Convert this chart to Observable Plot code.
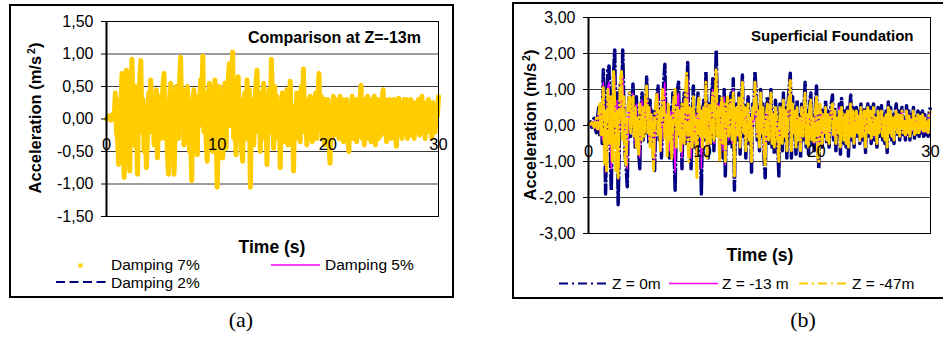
<!DOCTYPE html>
<html><head><meta charset="utf-8">
<script src="https://cdn.jsdelivr.net/npm/d3@7"></script>
<script src="https://cdn.jsdelivr.net/npm/@observablehq/plot@0.6"></script>
<style>
body{margin:0;background:#fff;font-family:"Liberation Sans",Arial,sans-serif;color:#000;}
#root{position:relative;width:943px;height:337px;overflow:hidden;background:#fff;}
.abs{position:absolute;white-space:nowrap;}
.frame{position:absolute;border:2px solid #000;box-sizing:border-box;}
.title{font-weight:bold;font-size:16px;line-height:18px;height:18px;}
.ytitle{font-weight:bold;font-size:16.5px;line-height:20px;height:20px;width:220px;text-align:center;transform:rotate(-90deg);}
.ytitle sup{font-size:10.5px;margin-left:2px;line-height:0;}
.xtitle{font-weight:bold;font-size:17.5px;line-height:20px;height:20px;width:120px;text-align:center;}
.leg{font-size:15.5px;line-height:14px;height:14px;}
.cap{font-family:"Liberation Serif","Times New Roman",serif;font-size:22px;line-height:26px;height:26px;width:60px;text-align:center;}
.plotbox{position:absolute;}
</style></head>
<body><div id="root">
<div class="frame" style="left:9px;top:4px;width:445px;height:294px;"></div>
<div class="frame" style="left:512px;top:2px;width:445px;height:297px;"></div>
<div id="pa" class="plotbox" style="left:40px;top:10px;"></div>
<div id="pb" class="plotbox" style="left:530px;top:5px;"></div>

<div class="abs title" style="left:248px;top:29px;">Comparison at Z=-13m</div>
<div class="abs title" style="left:751px;top:27px;font-size:15px;">Superficial Foundation</div>

<div class="abs ytitle" style="left:-75px;top:108px;">Acceleration (m/s<sup>2</sup>)</div>
<div class="abs ytitle" style="left:420px;top:115px;">Acceleration (m/s<sup>2</sup>)</div>

<div class="abs xtitle" style="left:212px;top:237px;">Time (s)</div>
<div class="abs xtitle" style="left:700px;top:245px;">Time (s)</div>

<svg class="abs" style="left:0;top:0;" width="943" height="337" id="legsym">
  <rect x="78.5" y="263.5" width="4" height="4" fill="#FFCC00"/>
  <line x1="271" y1="265" x2="320" y2="265" stroke="#FF00FF" stroke-width="1.5"/>
  <line x1="56" y1="282" x2="106" y2="282" stroke="#000080" stroke-width="2" stroke-dasharray="9,4.5"/>
  <line x1="559" y1="283.5" x2="608" y2="283.5" stroke="#000080" stroke-width="2" stroke-dasharray="9,4,2,4"/>
  <line x1="669" y1="283.5" x2="718" y2="283.5" stroke="#FF00FF" stroke-width="1.5"/>
  <line x1="799" y1="283.5" x2="848" y2="283.5" stroke="#FFCC00" stroke-width="2" stroke-dasharray="9,4,2,4"/>
</svg>
<div class="abs leg" style="left:111px;top:257.5px;">Damping 7%</div>
<div class="abs leg" style="left:325px;top:258px;">Damping 5%</div>
<div class="abs leg" style="left:111px;top:275.5px;">Damping 2%</div>
<div class="abs leg" style="left:612px;top:276.5px;">Z = 0m</div>
<div class="abs leg" style="left:722px;top:276.5px;">Z = -13 m</div>
<div class="abs leg" style="left:852px;top:276.5px;">Z = -47m</div>

<div class="abs cap" style="left:211px;top:307px;">(a)</div>
<div class="abs cap" style="left:773px;top:307px;">(b)</div>
</div>
<script>
// time step of the sampled records (s)
const timeStep = 0.1;
const xTicks = [0, 10, 20, 30];
const yTicksA = [-1.5, -1, -0.5, 0, 0.5, 1, 1.5];
const yTicksB = [-3, -2, -1, 0, 1, 2, 3];

// Panel (a): comparison at Z=-13m
const damping7 = [
0,0.02,0.05,0.03,-0.02,0.04,0.08,0.03,0.4,-0.2,
-0.3,-0.7,0.3,0.1,0.7,-0.2,-0.9,0.35,0.75,-0.1,
-0.3,-0.8,0.4,0.92,0.2,-0.4,0.5,-0.1,-0.85,0.3,
0.6,0.9,-0.2,0.3,-0.5,0.2,-0.75,-0.3,0.4,0.1,
0.6,-0.2,0.3,-0.4,0.1,0.45,-0.6,-0.1,0.35,-0.3,
0.2,0.5,0.7,-0.3,0.2,-0.5,-0.85,0.3,0.55,-0.2,
0.4,-0.85,-0.2,0.5,0.2,-0.3,0.6,0.95,-0.1,0.45,
-0.4,0.2,-0.3,0.5,0.1,-0.5,-0.2,-0.95,0.3,0.45,
-0.3,0.2,-0.55,0.35,-0.1,0.6,0.3,0.97,-0.2,0.4,
-0.3,-0.65,0.25,0.55,-0.2,0.4,-0.5,0.1,0.6,0.2,
-1.05,-0.3,0.5,-0.2,0.35,-0.6,0.1,0.55,-0.45,0.3,
0.6,0.85,-0.1,0.4,1.03,-0.3,0.2,-0.55,0.35,0.65,
-0.2,0.3,-0.45,-0.65,0.2,0.4,-0.3,0.6,-0.2,0.45,
-1.05,0.1,0.3,-0.4,0.2,0.5,0.75,-0.2,0.35,-0.5,
0.4,-0.3,0.55,-0.2,0.3,-0.7,0.1,0.45,-0.2,0.92,
0.3,-0.45,0.5,-0.1,0.35,-0.3,0.2,-0.75,0.1,0.4,
-0.35,0.3,-0.2,0.45,-0.4,0.2,0.58,-0.3,0.1,-0.8,
0.2,-0.3,0.4,-0.1,0.3,-0.35,0.5,0.2,0.77,-0.2,
0.3,-0.4,0.2,-0.3,0.35,0.1,-0.35,0.3,-0.2,0.4,
-0.3,0.25,0.7,-0.1,0.35,-0.3,0.2,-0.4,0.3,-0.2,
0.3,-0.35,-0.68,0.2,-0.3,0.35,-0.1,0.3,-0.25,0.2,
-0.3,0.35,-0.2,0.3,-0.35,0.25,-0.1,0.3,-0.3,-0.5,
0.2,-0.2,0.35,-0.3,0.15,0.3,-0.35,0.2,-0.25,0.3,
0.52,-0.3,0.2,-0.4,0.3,-0.1,0.35,-0.3,0.2,-0.35,
0.3,-0.2,0.35,-0.4,0.1,0.3,-0.3,0.2,-0.25,0.3,
0.45,-0.2,0.3,-0.35,0.2,-0.1,0.3,-0.3,0.25,-0.2,
0.3,-0.25,-0.42,0.2,0.32,-0.2,0.25,-0.3,0.1,0.3,
-0.2,0.3,-0.3,0.2,-0.1,0.3,-0.25,0.2,-0.3,0.25,
0.1,-0.2,0.3,-0.25,0.2,0.35,-0.2,0.1,-0.3,0.25,
-0.2,0.3,-0.15,0.2,-0.3,0.25,0.1,-0.2,0.2,0.05,
0.35];

const damping5 = [
0,0.02,0.05,0.03,-0.02,0.04,0.08,0.03,0.42,-0.2,
-0.32,-0.72,0.3,0.12,0.72,-0.2,-0.92,0.36,0.77,-0.1,
-0.32,-0.82,0.42,0.94,0.2,-0.42,0.52,-0.1,-0.87,0.3,
0.62,0.92,-0.2,0.32,-0.52,0.2,-0.77,-0.3,0.42,0.1,
0.62,-0.2,0.3,-0.42,0.1,0.46,-0.62,-0.1,0.36,-0.3,
0.2,0.52,0.72,-0.3,0.2,-0.52,-0.87,0.3,0.56,-0.2,
0.42,-0.87,-0.2,0.52,0.2,-0.3,0.62,0.97,-0.1,0.46,
-0.42,0.2,-0.3,0.52,0.1,-0.52,-0.2,-0.97,0.3,0.46,
-0.3,0.2,-0.57,0.36,-0.1,0.62,0.3,0.99,-0.2,0.42,
-0.3,-0.67,0.26,0.56,-0.2,0.42,-0.52,0.1,0.62,0.2,
-1.07,-0.3,0.52,-0.2,0.36,-0.62,0.1,0.56,-0.46,0.3,
0.62,0.87,-0.1,0.42,1.05,-0.3,0.2,-0.57,0.36,0.67,
-0.2,0.3,-0.46,-0.67,0.2,0.42,-0.3,0.62,-0.2,0.46,
-1.07,0.1,0.3,-0.42,0.2,0.52,0.77,-0.2,0.36,-0.52,
0.42,-0.3,0.56,-0.2,0.3,-0.72,0.1,0.46,-0.2,0.94,
0.3,-0.46,0.52,-0.1,0.36,-0.3,0.2,-0.77,0.1,0.42,
-0.36,0.3,-0.2,0.46,-0.42,0.2,0.6,-0.3,0.1,-0.82,
0.2,-0.3,0.42,-0.1,0.3,-0.36,0.52,0.2,0.79,-0.2,
0.3,-0.42,0.2,-0.3,0.36,0.1,-0.36,0.3,-0.2,0.42,
-0.3,0.26,0.72,-0.1,0.36,-0.3,0.2,-0.42,0.3,-0.2,
0.3,-0.36,-0.7,0.2,-0.3,0.36,-0.1,0.3,-0.26,0.2,
-0.3,0.36,-0.2,0.3,-0.36,0.26,-0.1,0.3,-0.3,-0.52,
0.2,-0.2,0.36,-0.3,0.15,0.3,-0.36,0.2,-0.26,0.3,
0.54,-0.3,0.2,-0.42,0.3,-0.1,0.36,-0.3,0.2,-0.36,
0.3,-0.2,0.36,-0.42,0.1,0.3,-0.3,0.2,-0.26,0.3,
0.46,-0.2,0.3,-0.36,0.2,-0.1,0.3,-0.3,0.26,-0.2,
0.3,-0.26,-0.44,0.2,0.33,-0.2,0.26,-0.3,0.1,0.3,
-0.2,0.3,-0.3,0.2,-0.1,0.3,-0.26,0.2,-0.3,0.26,
0.1,-0.2,0.3,-0.26,0.2,0.36,-0.2,0.1,-0.3,0.26,
-0.2,0.3,-0.15,0.2,-0.3,0.26,0.1,-0.2,0.2,0.05,
0.36];

const damping2 = [
0,0.02,0.04,0.03,-0.02,0.04,0.07,0.03,0.38,-0.2,
-0.28,-0.68,0.28,0.1,0.68,-0.2,-0.88,0.33,0.73,-0.1,
-0.28,-0.78,0.38,0.9,0.2,-0.38,0.48,-0.1,-0.83,0.28,
0.58,0.88,-0.2,0.28,-0.48,0.2,-0.73,-0.28,0.38,0.1,
0.58,-0.2,0.28,-0.38,0.1,0.43,-0.58,-0.1,0.33,-0.28,
0.2,0.48,0.68,-0.28,0.2,-0.48,-0.83,0.28,0.53,-0.2,
0.38,-0.83,-0.2,0.48,0.2,-0.28,0.58,0.93,-0.1,0.43,
-0.38,0.2,-0.28,0.48,0.1,-0.48,-0.2,-0.93,0.28,0.43,
-0.28,0.2,-0.53,0.33,-0.1,0.58,0.28,0.95,-0.2,0.38,
-0.28,-0.63,0.23,0.53,-0.2,0.38,-0.48,0.1,0.58,0.2,
-1.02,-0.28,0.48,-0.2,0.33,-0.58,0.1,0.53,-0.43,0.28,
0.58,0.83,-0.1,0.38,1.0,-0.28,0.2,-0.53,0.33,0.63,
-0.2,0.28,-0.43,-0.63,0.2,0.38,-0.28,0.58,-0.2,0.43,
-1.02,0.1,0.28,-0.38,0.2,0.48,0.73,-0.2,0.33,-0.48,
0.38,-0.28,0.53,-0.2,0.28,-0.68,0.1,0.43,-0.2,0.9,
0.28,-0.43,0.48,-0.1,0.33,-0.28,0.2,-0.73,0.1,0.38,
-0.33,0.28,-0.2,0.43,-0.38,0.2,0.56,-0.28,0.1,-0.78,
0.2,-0.28,0.38,-0.1,0.28,-0.33,0.48,0.2,0.75,-0.2,
0.28,-0.38,0.2,-0.28,0.33,0.1,-0.33,0.28,-0.2,0.38,
-0.28,0.23,0.68,-0.1,0.33,-0.28,0.2,-0.38,0.28,-0.2,
0.28,-0.33,-0.66,0.2,-0.28,0.33,-0.1,0.28,-0.23,0.2,
-0.28,0.33,-0.2,0.28,-0.33,0.23,-0.1,0.28,-0.28,-0.48,
0.2,-0.2,0.33,-0.28,0.15,0.28,-0.33,0.2,-0.23,0.28,
0.5,-0.28,0.2,-0.38,0.28,-0.1,0.33,-0.28,0.2,-0.33,
0.28,-0.2,0.33,-0.38,0.1,0.28,-0.28,0.2,-0.23,0.28,
0.43,-0.2,0.28,-0.33,0.2,-0.1,0.28,-0.28,0.23,-0.2,
0.28,-0.23,-0.4,0.2,0.3,-0.2,0.23,-0.28,0.1,0.28,
-0.2,0.28,-0.28,0.2,-0.1,0.28,-0.23,0.2,-0.28,0.23,
0.1,-0.2,0.28,-0.23,0.2,0.33,-0.2,0.1,-0.28,0.23,
-0.2,0.28,-0.15,0.2,-0.28,0.23,0.1,-0.2,0.2,0.05,
0.33];

// Panel (b): superficial foundation
const z0 = [
0,0.05,0.1,-0.05,0.15,0.2,-0.1,-0.2,0.25,0.5,
-0.3,0.6,-0.5,1.55,0.4,-1.9,0.3,1.55,1.65,-0.6,
-1.8,0.5,1.4,2.1,-0.4,0.9,-2.2,-0.6,1.2,0.3,
2.1,0.6,-0.8,-1.1,-1.7,0.5,0.9,-0.3,0.4,1.15,
0.3,-0.6,0.8,-0.3,-0.7,-1.2,0.4,0.9,-0.4,0.6,
-0.2,1.35,0.2,-0.5,0.7,-0.3,0.4,-0.8,-1.25,0.3,
0.8,1.1,-0.4,0.5,-0.9,0.3,1.2,1.7,-0.2,0.6,
0.3,-0.9,0.5,-0.4,0.9,-0.6,-1.8,0.2,1.0,1.2,
-0.3,0.6,-1.2,0.4,0.9,-0.5,0.3,1.75,-0.4,0.5,
-1.2,0.3,1.1,-0.6,0.4,-0.8,0.9,-0.3,0.5,-1.9,
0.2,0.7,-0.4,1.5,0.3,-0.9,0.6,-0.5,0.8,1.3,
-0.7,0.4,2.1,0.5,-0.3,0.8,-0.7,0.4,-0.9,1.0,
-1.4,0.3,0.7,-0.5,0.4,0.9,-0.6,1.3,-1.8,0.2,
0.6,-0.4,0.9,-0.8,0.5,1.4,-0.3,0.6,-0.9,0.4,
0.8,-0.5,0.3,-1.3,0.6,0.2,1.5,0.9,-0.4,0.5,
-0.7,1.0,-0.3,0.6,-0.9,-1.45,0.4,0.8,-0.5,0.3,
1.0,-0.6,0.4,-0.8,0.7,0.2,-0.5,-1.4,0.6,0.3,
-0.7,0.9,-0.4,0.5,-0.9,0.6,1.0,1.45,-0.9,0.8,
-0.3,0.5,-0.8,0.7,-0.5,0.3,-0.9,0.6,-0.4,0.5,
1.2,-0.6,0.4,-0.8,0.6,0.9,-0.5,0.3,-0.7,0.5,
1.1,-0.4,-1.2,0.3,0.5,-0.6,0.4,-0.3,0.7,-0.5,
0.4,-0.6,0.3,0.6,0.85,-0.4,0.5,-0.7,0.3,-0.3,
0.6,-0.8,0.75,0.2,-0.5,0.4,-0.6,0.5,-0.85,0.3,
0.85,-0.4,0.5,-0.6,0.3,0.5,-0.3,0.4,-0.5,0.6,
-0.4,0.3,0.5,-0.75,0.4,0.6,-0.3,0.5,-0.5,0.3,
0.6,-0.4,0.3,-0.6,0.5,-0.3,0.4,0.55,-0.4,0.3,
-0.5,0.4,-0.75,0.65,-0.3,0.5,-0.4,0.3,-0.5,0.4,
0.6,-0.3,0.4,-0.4,0.3,0.5,-0.3,0.2,-0.4,0.55,
-0.3,0.4,-0.4,0.3,-0.2,0.5,-0.35,0.3,-0.3,0.4,
-0.3,0.35,-0.2,0.4,-0.3,0.3,-0.25,0.2,-0.3,0.4,
0.5];

const z13 = [
0,0.04,0.08,-0.02,0.1,0.12,-0.05,-0.1,0.2,0.4,
-0.2,0.5,-0.4,1.2,0.3,-1.3,0.2,1.1,1.2,-0.5,
-1.2,0.4,1.0,1.4,-0.3,0.7,-1.5,-0.4,0.9,0.5,
1.4,0.4,-0.6,-0.9,-1.2,0.4,0.7,-0.2,0.3,0.9,
0.2,-0.5,0.6,-0.2,-0.6,-0.9,0.3,0.7,-0.3,0.5,
-0.1,1.0,0.1,-0.4,0.5,-0.2,0.3,-0.6,-1.0,0.2,
0.6,0.9,-0.3,0.4,-0.7,0.2,0.9,1.2,-0.1,0.4,
0.2,-0.7,0.4,-0.3,0.7,-0.5,-1.3,0.1,0.8,0.9,
-0.2,0.5,-0.9,0.3,0.7,-0.4,0.2,1.3,-0.3,0.4,
-0.9,0.2,0.8,-0.5,0.3,-1.3,0.7,-0.2,0.4,-1.2,
0.1,0.5,-0.3,1.1,0.2,-0.7,0.5,-0.4,0.6,1.0,
-0.5,0.3,1.5,0.4,-0.2,0.6,-0.6,0.3,-0.7,0.8,
-1.1,0.2,0.5,-0.4,0.3,0.7,-0.5,1.0,-1.3,0.1,
0.5,-0.3,0.7,-0.6,0.4,1.1,-0.2,0.5,-0.7,0.3,
0.6,-0.4,0.2,-1.0,0.5,0.1,1.1,0.7,-0.3,0.4,
-0.5,0.8,-0.2,0.5,-0.7,-1.1,0.3,0.6,-0.4,0.2,
0.8,-0.5,0.3,-0.6,0.5,0.1,-0.4,-1.0,0.4,0.2,
-0.5,0.7,-0.3,0.4,-0.7,0.4,0.8,1.1,-0.7,0.6,
-0.2,0.4,-0.6,0.5,-0.4,0.2,-0.7,0.5,-0.3,0.4,
0.9,-0.5,0.3,-0.6,0.5,0.7,-0.4,0.2,-0.5,0.4,
0.8,-0.3,-0.9,0.2,0.4,-0.5,0.3,-0.2,0.5,-0.4,
0.3,-0.5,0.2,0.5,0.6,-0.3,0.4,-0.5,0.2,-0.2,
0.5,-0.6,0.5,0.1,-0.4,0.3,-0.5,0.4,-0.6,0.2,
0.6,-0.3,0.4,-0.5,0.2,0.4,-0.2,0.3,-0.4,0.5,
-0.3,0.2,0.4,-0.5,0.3,0.45,-0.2,0.4,-0.4,0.2,
0.45,-0.3,0.2,-0.45,0.4,-0.2,0.3,0.4,-0.3,0.2,
-0.4,0.3,-0.55,0.45,-0.2,0.4,-0.3,0.2,-0.4,0.3,
0.45,-0.2,0.3,-0.3,0.2,0.4,-0.2,0.15,-0.3,0.4,
-0.2,0.3,-0.3,0.2,-0.15,0.4,-0.25,0.2,-0.2,0.3,
-0.2,0.25,-0.15,0.3,-0.2,0.25,-0.2,0.15,-0.2,0.3,
0.4];

const z47 = [
0,0.03,0.05,0.08,0.03,-0.05,0.1,0.2,-0.1,0.3,
0.6,-0.3,0.5,1.05,-1.05,0.4,-1.3,1.0,0.7,-0.5,
0.8,-1.0,1.5,0.6,-1.3,0.4,-1.45,0.3,1.3,1.5,
-0.4,0.8,-0.9,-1.1,0.3,0.6,0.9,-0.2,0.5,0.8,
-0.3,0.5,-0.6,0.2,-0.8,0.6,0.3,-0.4,0.5,-0.3,
0.8,1.1,-0.2,0.5,-0.6,0.3,-0.5,-1.25,0.2,0.6,
0.9,-0.3,0.4,-0.7,0.5,1.0,0.7,-0.4,0.3,-0.85,
0.6,-0.4,0.3,-0.9,0.2,0.8,1.0,-0.6,0.5,-0.3,
0.4,-0.7,0.6,0.2,-0.5,0.9,1.45,-0.3,-1.0,0.5,
0.3,-0.6,0.8,-0.4,0.2,-1.45,0.5,0.8,-0.3,0.4,
-0.6,0.5,-0.3,1.2,-0.9,0.4,0.6,-0.5,0.3,0.9,
-0.4,0.6,1.55,-0.3,0.5,-1.0,0.3,0.8,-0.5,0.6,
-1.0,0.4,0.8,-0.3,0.5,0.7,-0.4,0.9,-1.4,0.3,
0.5,-0.3,0.8,-0.6,0.4,1.2,-0.2,0.5,-0.7,0.3,
0.6,-0.4,0.2,-1.0,0.5,0.3,1.2,0.7,-0.3,0.4,
-0.6,0.9,-0.2,0.5,-0.7,-1.1,0.3,0.6,-0.4,0.2,
0.9,-0.5,0.3,-0.6,0.5,0.1,-0.4,-1.0,0.5,0.2,
-0.5,0.7,-0.3,0.4,-0.7,0.5,0.8,1.25,-0.7,0.6,
-0.2,0.4,-0.6,0.5,-0.4,0.2,-0.7,0.5,-0.3,0.4,
0.9,-0.5,0.3,-0.6,0.5,0.7,-0.4,0.2,-0.5,0.4,
0.8,-0.9,-1.0,0.6,0.3,-0.5,0.3,-0.2,0.5,-0.4,
0.3,-0.5,0.2,0.4,0.6,-0.3,0.4,-0.5,0.2,-0.2,
0.4,-0.6,0.5,0.1,-0.4,0.3,-0.5,0.4,-0.6,0.2,
0.6,-0.3,0.4,-0.5,0.2,0.4,-0.2,0.3,-0.4,0.5,
-0.3,0.2,0.4,-0.6,0.3,0.5,-0.2,0.4,-0.4,0.2,
0.5,-0.3,0.2,-0.5,0.4,-0.2,0.3,0.4,-0.3,0.2,
-0.4,0.3,-0.6,0.5,-0.2,0.4,-0.3,0.2,-0.4,0.3,
0.4,-0.2,0.3,-0.3,0.2,0.4,-0.2,0.1,-0.3,0.4,
-0.2,0.3,-0.3,0.2,-0.1,0.4,-0.25,0.2,-0.2,0.3,
-0.2,0.25,-0.1,0.3,-0.2,0.2,-0.15,0.1,-0.2,0.3,
0.4];

const rows = vals => vals.map((v, i) => ({t: i * timeStep, v}));
const fmt = d => d.toFixed(2).replace(".", ",");
const baseStyle = {fontFamily: "'Liberation Sans', Arial, sans-serif", fontSize: "16px", background: "transparent", overflow: "visible", color: "#000"};

const plotA = Plot.plot({
  width: 405, height: 220,
  marginLeft: 66, marginRight: 7, marginTop: 11, marginBottom: 14,
  style: baseStyle,
  x: {domain: [0, 30], axis: null},
  y: {domain: [-1.5, 1.5]},
  marks: [
    Plot.ruleY(yTicksA, {stroke: "#3a3a3a", strokeWidth: 1}),
    Plot.line(rows(damping2), {x: "t", y: "v", stroke: "#000080", strokeWidth: 1.5, strokeDasharray: "5,3", strokeLinecap: "butt"}),
    Plot.line(rows(damping5), {x: "t", y: "v", stroke: "#FF00FF", strokeWidth: 1.2}),
    Plot.line(rows(damping7), {x: "t", y: "v", stroke: "#FFCC00", strokeWidth: 5}),
    Plot.axisY({ticks: yTicksA, tickFormat: fmt, tickSize: 5, tickPadding: 8, fontSize: 16, label: null}),
    Plot.text(xTicks, {x: d => d, y: d => 0, dy: 26, text: d => String(d), fontSize: 16.5, fill: "#000"}),
    Plot.frame({stroke: "#000"}),
    Plot.ruleX([0], {stroke: "#000", strokeWidth: 2})
  ]
});
document.getElementById("pa").appendChild(plotA);

const plotB = Plot.plot({
  width: 410, height: 240,
  marginLeft: 58, marginRight: 10, marginTop: 12, marginBottom: 12,
  style: baseStyle,
  x: {domain: [0, 30], axis: null},
  y: {domain: [-3, 3]},
  marks: [
    Plot.ruleY(yTicksB, {stroke: "#3a3a3a", strokeWidth: 1}),
    Plot.line(rows(z0), {x: "t", y: "v", stroke: "#000080", strokeWidth: 3.5, strokeDasharray: "16,1.5,3,1.5", strokeLinecap: "butt"}),
    Plot.line(rows(z13), {x: "t", y: "v", stroke: "#FF00FF", strokeWidth: 1.3}),
    Plot.line(rows(z47), {x: "t", y: "v", stroke: "#FFCC00", strokeWidth: 3, strokeDasharray: "16,1.5,3,1.5", strokeLinecap: "butt"}),
    Plot.axisY({ticks: yTicksB, tickFormat: fmt, tickSize: 5, tickPadding: 8, fontSize: 16, label: null}),
    Plot.text(xTicks, {x: d => d, y: d => 0, dy: 26, text: d => String(d), fontSize: 16.5, fill: "#000"}),
    Plot.frame({stroke: "#000"}),
    Plot.ruleX([0], {stroke: "#000", strokeWidth: 2})
  ]
});
document.getElementById("pb").appendChild(plotB);
</script>
</body></html>
